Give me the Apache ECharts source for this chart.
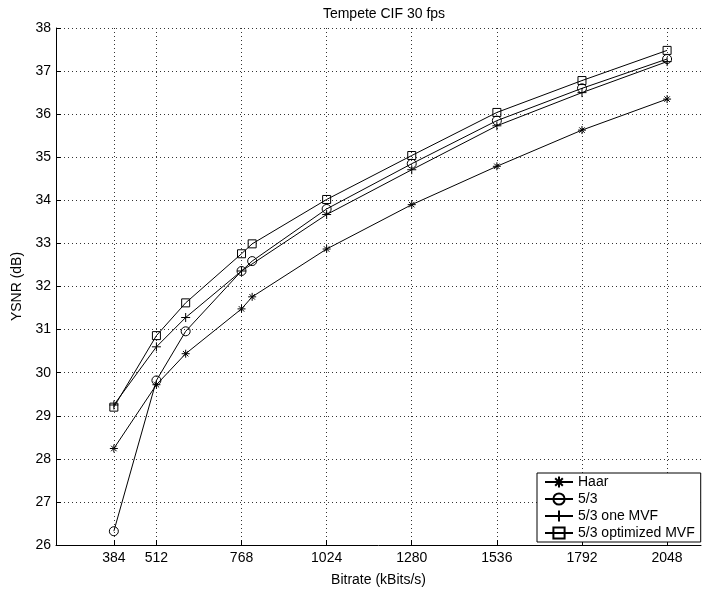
<!DOCTYPE html>
<html>
<head>
<meta charset="utf-8">
<script src="https://cdn.jsdelivr.net/npm/echarts@6/dist/echarts.min.js"></script>
<style>
html,body{margin:0;padding:0;background:#fff;}
#chart{width:709px;height:592px;}
</style>
</head>
<body>
<div id="chart"></div>
<script>
// ---- data ----
var titleText = 'Tempete CIF 30 fps';
var xName = 'Bitrate (kBits/s)';
var yName = 'YSNR (dB)';
var xTickValues = [384, 512, 768, 1024, 1280, 1536, 1792, 2048];
var seriesNames = ['Haar', '5/3', '5/3 one MVF', '5/3 optimized MVF'];

var haarX = [384, 512, 600, 768, 800, 1024, 1280, 1536, 1792, 2048];
var haarY = [28.24, 29.72, 30.44, 31.48, 31.76, 32.87, 33.90, 34.79, 35.63, 36.35];

var s53X = [384, 512, 600, 768, 800, 1024, 1280, 1536, 1792, 2048];
var s53Y = [26.32, 29.82, 30.96, 32.36, 32.59, 33.80, 34.85, 35.85, 36.60, 37.28];

var oneX = [384, 512, 600, 768, 1024, 1280, 1536, 1792, 2048];
var oneY = [29.25, 30.60, 31.28, 32.36, 33.67, 34.71, 35.73, 36.50, 37.22];

var optX = [384, 512, 600, 768, 800, 1024, 1280, 1536, 1792, 2048];
var optY = [29.20, 30.86, 31.62, 32.76, 32.99, 34.02, 35.04, 36.04, 36.78, 37.48];

// ---- build ----
function pairs(xs, ys) { return xs.map(function (x, i) { return [x, ys[i]]; }); }
var FONT = 'Liberation Sans, Arial, Helvetica, sans-serif';
var PLUS = 'path://M5,0L5,10M0,5L10,5';
var STAR = 'path://M5,0L5,10M0,5L10,5M1.6,1.6L8.4,8.4M1.6,8.4L8.4,1.6';

function mk(name, data, symbol, size) {
  return {
    name: name, type: 'line', data: data,
    symbol: symbol, symbolSize: size, showSymbol: true,
    lineStyle: { color: '#000', width: 1 },
    itemStyle: { color: 'transparent', borderColor: '#000', borderWidth: 1 },
    emphasis: { disabled: true },
    z: 3
  };
}

var chart = echarts.init(document.getElementById('chart'), null, { renderer: 'canvas' });
var gridLine = { show: true, lineStyle: { color: '#333', width: 1, type: [1, 3] } };
chart.setOption({
  animation: false,
  backgroundColor: '#fff',
  textStyle: { fontFamily: FONT },
  title: {
    text: titleText, left: 379, top: 2, textAlign: 'center',
    textStyle: { fontFamily: FONT, fontSize: 14, fontWeight: 'normal', color: '#000' }
  },
  grid: { left: 56, right: 8, top: 28, bottom: 42, containLabel: false },
  xAxis: {
    type: 'value', min: 210, max: 2150,
    name: xName, nameLocation: 'middle', nameGap: 28,
    nameTextStyle: { fontFamily: FONT, fontSize: 14, color: '#000' },
    axisLine: { show: true, lineStyle: { color: '#000', width: 1 } },
    axisTick: { show: true, inside: true, length: 5, customValues: xTickValues, lineStyle: { color: '#000' } },
    axisLabel: {
      customValues: xTickValues, fontFamily: FONT, fontSize: 14, color: '#000', margin: 6,
      formatter: function (v) { return String(Math.round(v)); }
    },
    splitLine: gridLine
  },
  yAxis: {
    type: 'value', min: 26, max: 38, interval: 1,
    name: yName, nameLocation: 'middle', nameGap: 30, nameRotate: 90,
    nameTextStyle: { fontFamily: FONT, fontSize: 14, color: '#000' },
    axisLine: { show: true, lineStyle: { color: '#000', width: 1 } },
    axisTick: { show: true, inside: true, length: 5, lineStyle: { color: '#000' } },
    axisLabel: { fontFamily: FONT, fontSize: 14, color: '#000', margin: 5,
      formatter: function (v) { return String(Math.round(v)); } },
    splitLine: gridLine
  },
  legend: {
    data: seriesNames, orient: 'vertical', left: 537, top: 473,
    backgroundColor: '#fff', borderColor: '#000', borderWidth: 1,
    padding: [2, 6, 2, 7], itemGap: 3, itemWidth: 28, itemHeight: 14,
    textStyle: { fontFamily: FONT, fontSize: 14, color: '#000' }
  },
  series: [
    mk(seriesNames[0], pairs(haarX, haarY), STAR, 8),
    mk(seriesNames[1], pairs(s53X, s53Y), 'circle', 9),
    mk(seriesNames[2], pairs(oneX, oneY), PLUS, 9),
    mk(seriesNames[3], pairs(optX, optY), 'rect', 8)
  ]
});
</script>
</body>
</html>
